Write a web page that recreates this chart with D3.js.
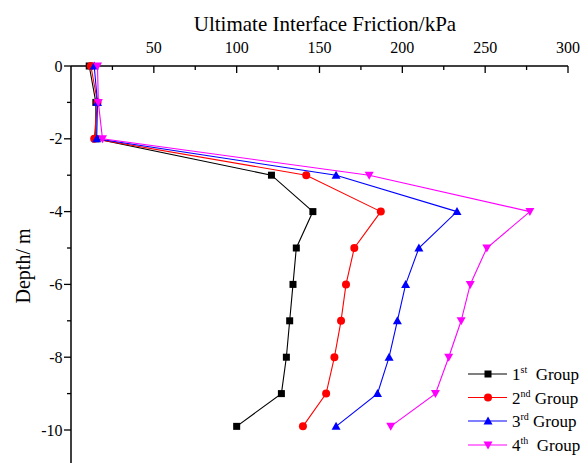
<!DOCTYPE html>
<html><head><meta charset="utf-8">
<script src="https://cdn.jsdelivr.net/npm/d3@7"></script>
<style>body{margin:0;background:#fff}svg{display:block}</style>
</head><body>
<script>
const depths = [0, -1, -2, -3, -4, -5, -6, -7, -8, -9, -9.9];
const group1 = [11, 15, 15, 121, 146, 136, 134, 132, 130, 127, 100];
const group2 = [12, 16, 14, 142, 187, 171, 166, 163, 159, 154, 140];
const group3 = [14, 16, 15.5, 160, 233, 210, 202, 197, 192, 185, 160];
const group4 = [16, 16.5, 19, 180, 277, 251, 241, 235.5, 228, 220, 193];
const seriesNames = [["1","st","  Group"],["2","nd"," Group"],["3","rd"," Group"],["4","th","  Group"]];
const colors = ["#000000","#ff0000","#0000ff","#ff00ff"];
const symbols = ["square","circle","up","down"];
const xTicks = [50,100,150,200,250,300];
const yTicks = [0,-2,-4,-6,-8,-10];

const FONT = "'Liberation Serif', 'Times New Roman', Times, 'DejaVu Serif', serif";
const W=588,H=463;
const svg=d3.select("body").append("svg").attr("width",W).attr("height",H).attr("font-family",FONT);
const x=d3.scaleLinear().domain([0,300]).range([71,568]);
const y=d3.scaleLinear().domain([0,-11]).range([66,466.4]);

// top axis
const gx=svg.append("g");
gx.append("line").attr("x1",x(0)).attr("x2",x(300)).attr("y1",y(0)).attr("y2",y(0)).attr("stroke","#000").attr("stroke-width",1.5);
d3.range(25,301,25).forEach(v=>{
  const major=v%50===0;
  gx.append("line").attr("x1",x(v)).attr("x2",x(v)).attr("y1",y(0)).attr("y2",y(0)+(major?7:4)).attr("stroke","#000").attr("stroke-width",1.3);
});
xTicks.forEach(v=>gx.append("text").attr("x",x(v)).attr("y",53).attr("text-anchor","middle").attr("font-size",16).text(v));
svg.append("text").attr("x",325).attr("y",31).attr("text-anchor","middle").attr("font-size",21).text("Ultimate Interface Friction/kPa");

// left axis
const gy=svg.append("g");
gy.append("line").attr("x1",x(0)).attr("x2",x(0)).attr("y1",y(0)).attr("y2",H).attr("stroke","#000").attr("stroke-width",1.5);
d3.range(0,-12,-1).forEach(v=>{
  const major=v%2===0;
  gy.append("line").attr("x1",x(0)).attr("x2",x(0)-(major?7:4)).attr("y1",y(v)).attr("y2",y(v)).attr("stroke","#000").attr("stroke-width",1.3);
});
yTicks.forEach(v=>gy.append("text").attr("x",62.5).attr("y",y(v)+5.5).attr("text-anchor","end").attr("font-size",16).text(v));
svg.append("text").attr("transform","translate(30,266) rotate(-90)").attr("text-anchor","middle").attr("font-size",20).text("Depth/ m");

function drawSym(g,type,cx,cy,c){
  if(type==="square") g.append("rect").attr("x",cx-3.5).attr("y",cy-3.5).attr("width",7).attr("height",7).attr("fill",c);
  else if(type==="circle") g.append("circle").attr("cx",cx).attr("cy",cy).attr("r",4).attr("fill",c);
  else if(type==="up") g.append("path").attr("d",`M${cx},${cy-4.5}L${cx+4.5},${cy+3.5}L${cx-4.5},${cy+3.5}Z`).attr("fill",c);
  else g.append("path").attr("d",`M${cx},${cy+4.5}L${cx+4.5},${cy-3.5}L${cx-4.5},${cy-3.5}Z`).attr("fill",c);
}

const all=[group1,group2,group3,group4];
const line=d3.line().x(d=>x(d[0])).y(d=>y(d[1]));
all.forEach((vals,i)=>{
  const pts=vals.map((v,j)=>[v,depths[j]]);
  const g=svg.append("g");
  g.append("path").attr("d",line(pts)).attr("fill","none").attr("stroke",colors[i]).attr("stroke-width",1.1);
  pts.forEach(p=>drawSym(g,symbols[i],x(p[0]),y(p[1]),colors[i]));
});

// legend
const ly=[374,397.5,421,445];
seriesNames.forEach((n,i)=>{
  const g=svg.append("g");
  g.append("line").attr("x1",468).attr("x2",507).attr("y1",ly[i]).attr("y2",ly[i]).attr("stroke",colors[i]).attr("stroke-width",1.1);
  drawSym(g,symbols[i],488,ly[i],colors[i]);
  const t=g.append("text").attr("x",512).attr("y",ly[i]+6).attr("font-size",17).style("white-space","pre");
  t.append("tspan").text(n[0]);
  t.append("tspan").attr("dy",-7).attr("font-size",10).text(n[1]);
  t.append("tspan").attr("dy",7).text(n[2]);
});
</script>
</body></html>
